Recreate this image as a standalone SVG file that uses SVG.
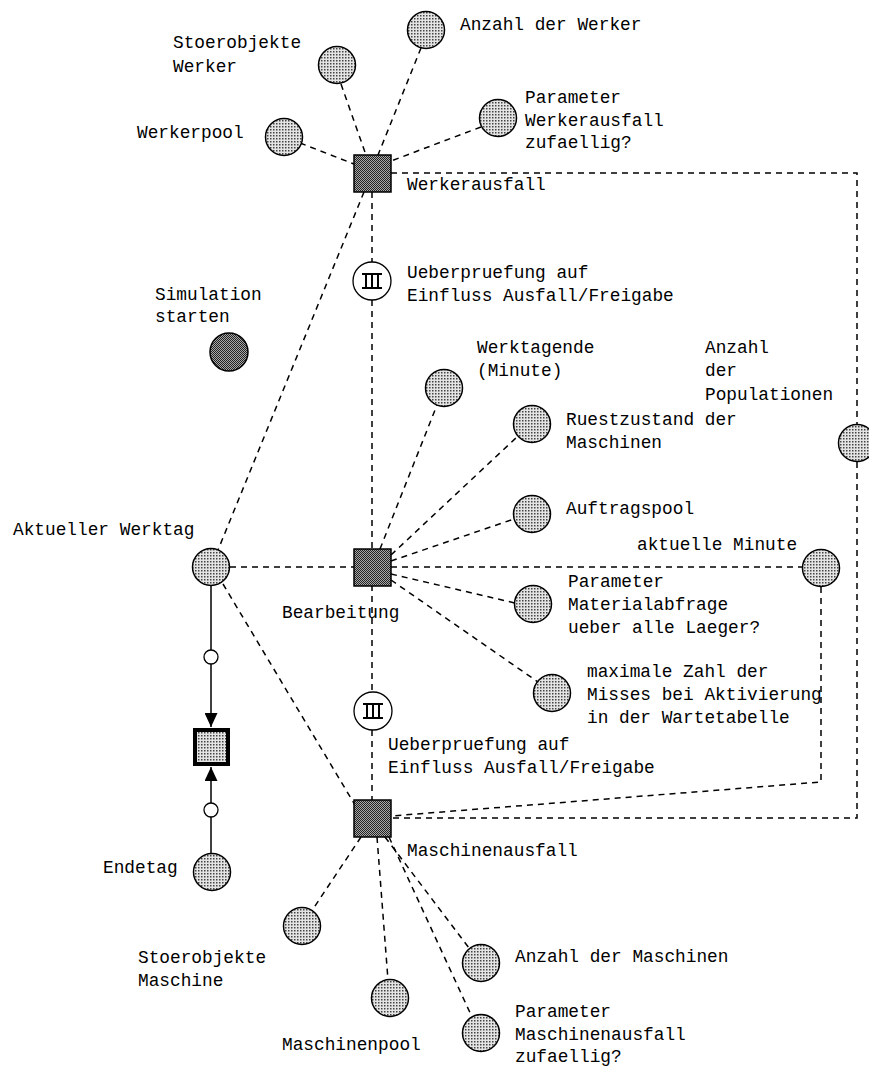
<svg xmlns="http://www.w3.org/2000/svg" width="869" height="1068" viewBox="0 0 869 1068">
  <style>
    .t { font-family: "Liberation Mono", "DejaVu Sans Mono", monospace; font-size: 17.8px; fill: #000; }
    .place { fill: url(#lightDots); stroke: #000; stroke-width: 1.5; }
    .start { fill: url(#darkDots); stroke: #000; stroke-width: 1.5; }
    .trans { fill: url(#darkDots); stroke: #000; stroke-width: 1.5; }
    .sub { fill: #fff; stroke: #000; stroke-width: 1.3; }
    .sym { stroke: #000; stroke-width: 2; fill: none; }
    .dash { stroke: #000; stroke-width: 1.5; fill: none; stroke-dasharray: 6 5; }
    .solid { stroke: #000; stroke-width: 1.5; fill: none; }
    .small { fill: #fff; stroke: #000; stroke-width: 1.3; }
  </style>
  <defs>
    <!-- stipple fills for places and transitions -->
    <pattern id="lightDots" width="3" height="3" patternUnits="userSpaceOnUse">
      <rect width="3" height="3" fill="#e4e4e4"/>
      <rect x="0" y="0" width="1.5" height="1.5" fill="#444"/>
    </pattern>
    <pattern id="darkDots" width="2" height="2" patternUnits="userSpaceOnUse">
      <rect width="2" height="2" fill="#a8a8a8"/>
      <rect x="0" y="0" width="1" height="1" fill="#222"/>
      <rect x="1" y="1" width="1" height="1" fill="#222"/>
    </pattern>
    <marker id="arr" viewBox="0 0 14 13" refX="14" refY="6.5" markerWidth="14" markerHeight="13" markerUnits="userSpaceOnUse" orient="auto">
      <path d="M0,0 L14,6.5 L0,13 Z" fill="#000"/>
    </marker>
  </defs>
  <rect width="869" height="1068" fill="#fff"/>

  <!-- connectors -->
  <g id="connectors">
    <!-- Werkerausfall inputs -->
    <line class="dash" x1="300" y1="143" x2="354" y2="164"/>
    <line class="dash" x1="341" y1="84" x2="366" y2="155"/>
    <line class="dash" x1="421" y1="48" x2="378" y2="155"/>
    <line class="dash" x1="481" y1="127" x2="391" y2="161"/>
    <!-- Werkerausfall to Aktueller Werktag -->
    <line class="dash" x1="364" y1="192" x2="218" y2="550"/>
    <!-- vertical chain -->
    <line class="dash" x1="372" y1="192" x2="372" y2="262"/>
    <line class="dash" x1="372" y1="300" x2="372" y2="549"/>
    <line class="dash" x1="372" y1="585" x2="372" y2="692"/>
    <line class="dash" x1="372" y1="730" x2="372" y2="800"/>
    <!-- Werkerausfall loop around the right side to Maschinenausfall -->
    <polyline class="dash" points="391,173 857,173 857,424"/>
    <polyline class="dash" points="857,462 857,818 391,818"/>
    <!-- aktuelle Minute to Maschinenausfall -->
    <polyline class="dash" points="821,587 821,782 391,816"/>
    <!-- Bearbeitung neighbours -->
    <line class="dash" x1="230" y1="567" x2="354" y2="567"/>
    <line class="dash" x1="391" y1="567" x2="803" y2="567"/>
    <line class="dash" x1="380" y1="549" x2="437" y2="405"/>
    <line class="dash" x1="391" y1="555" x2="518" y2="436"/>
    <line class="dash" x1="391" y1="561" x2="514" y2="519"/>
    <line class="dash" x1="391" y1="574" x2="515" y2="603"/>
    <line class="dash" x1="391" y1="580" x2="538" y2="682"/>
    <!-- Aktueller Werktag to Maschinenausfall -->
    <line class="dash" x1="223" y1="584" x2="355" y2="805"/>
    <!-- Maschinenausfall outputs -->
    <line class="dash" x1="361" y1="837" x2="313" y2="909"/>
    <line class="dash" x1="377" y1="837" x2="388" y2="980"/>
    <line class="dash" x1="385" y1="837" x2="469" y2="948"/>
    <line class="dash" x1="389" y1="837" x2="472" y2="1017"/>
    <!-- solid arcs into the end test -->
    <line class="solid" x1="211" y1="585" x2="211" y2="650"/>
    <line class="solid" x1="211" y1="664" x2="211" y2="727" marker-end="url(#arr)"/>
    <line class="solid" x1="211" y1="854" x2="211" y2="817"/>
    <line class="solid" x1="211" y1="803" x2="211" y2="767" marker-end="url(#arr)"/>
    <circle class="small" cx="211" cy="657" r="7"/>
    <circle class="small" cx="211" cy="810" r="7"/>
  </g>

  <!-- Werkerausfall cluster -->
  <g id="werkerausfall">
    <rect class="trans" x="354" y="155" width="37" height="37"/>
    <text class="t" x="407" y="190">Werkerausfall</text>
  </g>
  <g id="werkerpool">
    <circle class="place" cx="284" cy="137" r="18.5"/>
    <text class="t" x="137" y="138">Werkerpool</text>
  </g>
  <g id="stoerobjekte-werker">
    <circle class="place" cx="337" cy="65" r="18.5"/>
    <text class="t" x="173" y="48">Stoerobjekte</text>
    <text class="t" x="173" y="72">Werker</text>
  </g>
  <g id="anzahl-werker">
    <circle class="place" cx="426" cy="30" r="18.5"/>
    <text class="t" x="460" y="30">Anzahl der Werker</text>
  </g>
  <g id="param-werkerausfall">
    <circle class="place" cx="498" cy="118" r="18.5"/>
    <text class="t" x="525" y="103">Parameter</text>
    <text class="t" x="525" y="126">Werkerausfall</text>
    <text class="t" x="525" y="148">zufaellig?</text>
  </g>

  <!-- check transitions -->
  <g id="check-1">
    <circle class="sub" cx="372" cy="281" r="19"/>
    <path class="sym" d="M362,274 H382 M362,288 H382 M366,274 V288 M372,274 V288 M378,274 V288"/>
    <text class="t" x="407" y="278">Ueberpruefung auf</text>
    <text class="t" x="407" y="301">Einfluss Ausfall/Freigabe</text>
  </g>
  <g id="check-2">
    <circle class="sub" cx="373" cy="711" r="19"/>
    <path class="sym" d="M363,704 H383 M363,718 H383 M367,704 V718 M373,704 V718 M379,704 V718"/>
    <text class="t" x="388" y="750">Ueberpruefung auf</text>
    <text class="t" x="388" y="773">Einfluss Ausfall/Freigabe</text>
  </g>

  <!-- start place -->
  <g id="simulation-starten">
    <circle class="start" cx="229" cy="352" r="19"/>
    <text class="t" x="155" y="300">Simulation</text>
    <text class="t" x="155" y="322">starten</text>
  </g>

  <!-- Bearbeitung cluster -->
  <g id="bearbeitung">
    <rect class="trans" x="354" y="549" width="37" height="37"/>
    <text class="t" x="282" y="618">Bearbeitung</text>
  </g>
  <g id="aktueller-werktag">
    <circle class="place" cx="211" cy="567" r="18.5"/>
    <text class="t" x="13" y="535">Aktueller Werktag</text>
  </g>
  <g id="werktagende">
    <circle class="place" cx="444" cy="388" r="18.5"/>
    <text class="t" x="477" y="353">Werktagende</text>
    <text class="t" x="477" y="376">(Minute)</text>
  </g>
  <g id="ruestzustand">
    <circle class="place" cx="532" cy="424" r="18.5"/>
    <text class="t" x="566" y="425">Ruestzustand der</text>
    <text class="t" x="566" y="448">Maschinen</text>
  </g>
  <g id="anzahl-populationen">
    <circle class="place" cx="857" cy="443" r="18.5"/>
    <text class="t" x="705" y="353">Anzahl</text>
    <text class="t" x="705" y="376">der</text>
    <text class="t" x="705" y="400">Populationen</text>
  </g>
  <g id="auftragspool">
    <circle class="place" cx="532" cy="514" r="18.5"/>
    <text class="t" x="566" y="514">Auftragspool</text>
  </g>
  <g id="aktuelle-minute">
    <circle class="place" cx="821" cy="568" r="18.5"/>
    <text class="t" x="637" y="550">aktuelle Minute</text>
  </g>
  <g id="param-material">
    <circle class="place" cx="533" cy="604" r="18.5"/>
    <text class="t" x="568" y="587">Parameter</text>
    <text class="t" x="568" y="610">Materialabfrage</text>
    <text class="t" x="568" y="633">ueber alle Laeger?</text>
  </g>
  <g id="max-misses">
    <circle class="place" cx="552" cy="693" r="18.5"/>
    <text class="t" x="587" y="677">maximale Zahl der</text>
    <text class="t" x="587" y="700">Misses bei Aktivierung</text>
    <text class="t" x="587" y="723">in der Wartetabelle</text>
  </g>

  <!-- end of working day -->
  <g id="tagesende">
    <rect x="195" y="730" width="33" height="34" fill="url(#lightDots)" stroke="#000" stroke-width="4"/>
  </g>
  <g id="endetag">
    <circle class="place" cx="212" cy="872" r="18.5"/>
    <text class="t" x="103" y="873">Endetag</text>
  </g>

  <!-- Maschinenausfall cluster -->
  <g id="maschinenausfall">
    <rect class="trans" x="354" y="800" width="37" height="37"/>
    <text class="t" x="407" y="856">Maschinenausfall</text>
  </g>
  <g id="stoerobjekte-maschine">
    <circle class="place" cx="302" cy="926" r="18.5"/>
    <text class="t" x="138" y="963">Stoerobjekte</text>
    <text class="t" x="138" y="986">Maschine</text>
  </g>
  <g id="maschinenpool">
    <circle class="place" cx="390" cy="998" r="18.5"/>
    <text class="t" x="282" y="1050">Maschinenpool</text>
  </g>
  <g id="anzahl-maschinen">
    <circle class="place" cx="481" cy="963" r="18.5"/>
    <text class="t" x="515" y="962">Anzahl der Maschinen</text>
  </g>
  <g id="param-maschinenausfall">
    <circle class="place" cx="481" cy="1033" r="18.5"/>
    <text class="t" x="515" y="1017">Parameter</text>
    <text class="t" x="515" y="1040">Maschinenausfall</text>
    <text class="t" x="515" y="1062">zufaellig?</text>
  </g>
</svg>
